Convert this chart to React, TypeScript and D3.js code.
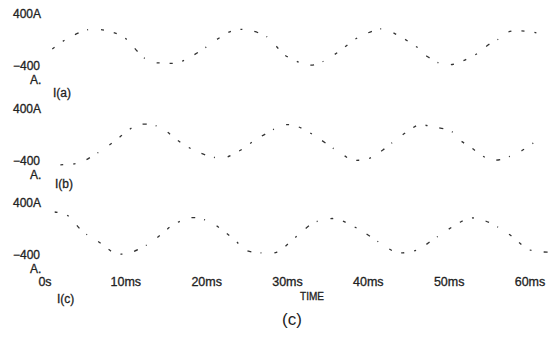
import React from "react"
import * as d3 from "d3"

// time in ms, current in A
const timeA = [0.9, 3.1, 5.9, 9.3, 9.9, 12.8, 14.6, 16.3, 17.3, 19.2, 23.1, 24.8, 27.5, 28.7, 29.3, 30.3, 32.5, 33.7, 36.3, 38.4, 40.6, 41.8, 46.0, 47.4, 49.8, 53.6, 54.8, 56.1, 56.7, 57.9, 60.3, 60.9]
const currentA = [-33, 167, 300, 200, 150, -233, -267, -267, -217, -67, 267, 290, 167, 0, -100, -183, -300, -283, -83, 133, 267, 300, 0, -167, -300, -100, 33, 133, 217, 267, 250, 233]

const timeB = [1.9, 4.2, 5.9, 8.3, 9.9, 11.4, 13.4, 14.6, 16.7, 19.2, 21.9, 23.8, 26.0, 27.5, 29.5, 31.4, 36.9, 38.0, 40.2, 41.8, 42.9, 44.9, 46.2, 46.8, 48.3, 50.4, 51.0, 52.6, 55.3, 58.2, 60.4]
const currentB = [-380, -350, -233, -17, 150, 283, 283, 217, 0, -183, -267, -167, 33, 150, 283, 250, -217, -300, -267, -133, -17, 183, 283, 283, 250, 167, 67, -83, -300, -200, -17]

const timeC = [1.2, 2.7, 4.7, 5.9, 7.2, 8.4, 9.9, 12.6, 14.6, 15.8, 17.9, 18.9, 20.7, 21.9, 23.5, 24.8, 26.9, 28.7, 30.6, 31.6, 33.2, 34.9, 36.1, 39.0, 39.6, 43.3, 43.9, 46.0, 48.3, 51.4, 52.8, 54.5, 57.2, 60.0, 62.5]
const currentC = [400, 350, 67, -33, -150, -267, -300, -150, 50, 183, 300, 300, 217, 100, -67, -233, -283, -267, -67, 50, 217, 283, 283, 100, 50, -267, -283, -233, -33, 233, 300, 250, 50, -233, -267]

const timeTicks = [0, 10, 20, 30, 40, 50, 60]
const timeTickLabels = ["0s", "10ms", "20ms", "30ms", "40ms", "50ms", "60ms"]
const traceNames = ["I(a)", "I(b)", "I(c)"]

const W = 558
const H = 340
const font = "'Liberation Sans', Arial, sans-serif"
const ink = "#222"

const x = d3.scaleLinear().domain([0, 60]).range([45, 530])

const panels = [
  { t: timeA, v: currentA, center: 47, nameX: 53, nameY: 94 },
  { t: timeB, v: currentB, center: 142, nameX: 55, nameY: 185 },
  { t: timeC, v: currentC, center: 236, nameX: 57, nameY: 300 },
]

const textStyle = { fill: ink, stroke: ink, strokeWidth: 0.3 }

export default function App() {
  return (
    <svg width={W} height={H} style={{ position: "absolute", left: 0, top: 0, background: "#fff" }} fontFamily={font}>
      {panels.map((p, i) => {
        const y = d3.scaleLinear().domain([-400, 400]).range([p.center + 24, p.center - 24])
        const pts: [number, number][] = p.t.map((t, k) => [t, p.v[k]])
        const line = d3.line<[number, number]>()
          .x(d => x(d[0]))
          .y(d => y(d[1]))
          .curve(d3.curveCatmullRom)
        return (
          <g key={i}>
            <text x={13} y={y(400) - 8} dominantBaseline="middle" fontSize={12} {...textStyle}>400A</text>
            <text x={13} y={y(-400) - 4} dominantBaseline="middle" fontSize={12} {...textStyle}>−400</text>
            <text x={30} y={y(-400) + 10} dominantBaseline="middle" fontSize={12} {...textStyle}>A.</text>
            <text x={p.nameX} y={p.nameY} dominantBaseline="middle" fontSize={12} {...textStyle}>{traceNames[i]}</text>
            <path d={line(pts) || ""} fill="none" stroke="#333" strokeWidth={1.3}
              strokeDasharray="3 10 2 12 4 9 1 13 3 10" />
          </g>
        )
      })}
      {timeTicks.map((t, i) => (
        <text key={t} x={x(t)} y={283} textAnchor="middle" dominantBaseline="middle" fontSize={12.5} {...textStyle}>
          {timeTickLabels[i]}
        </text>
      ))}
      <text x={312} y={297} textAnchor="middle" dominantBaseline="middle" fontSize={10} {...textStyle}>TIME</text>
      <text x={292} y={321} textAnchor="middle" dominantBaseline="middle" fontSize={17} fill={ink}>(c)</text>
    </svg>
  )
}
